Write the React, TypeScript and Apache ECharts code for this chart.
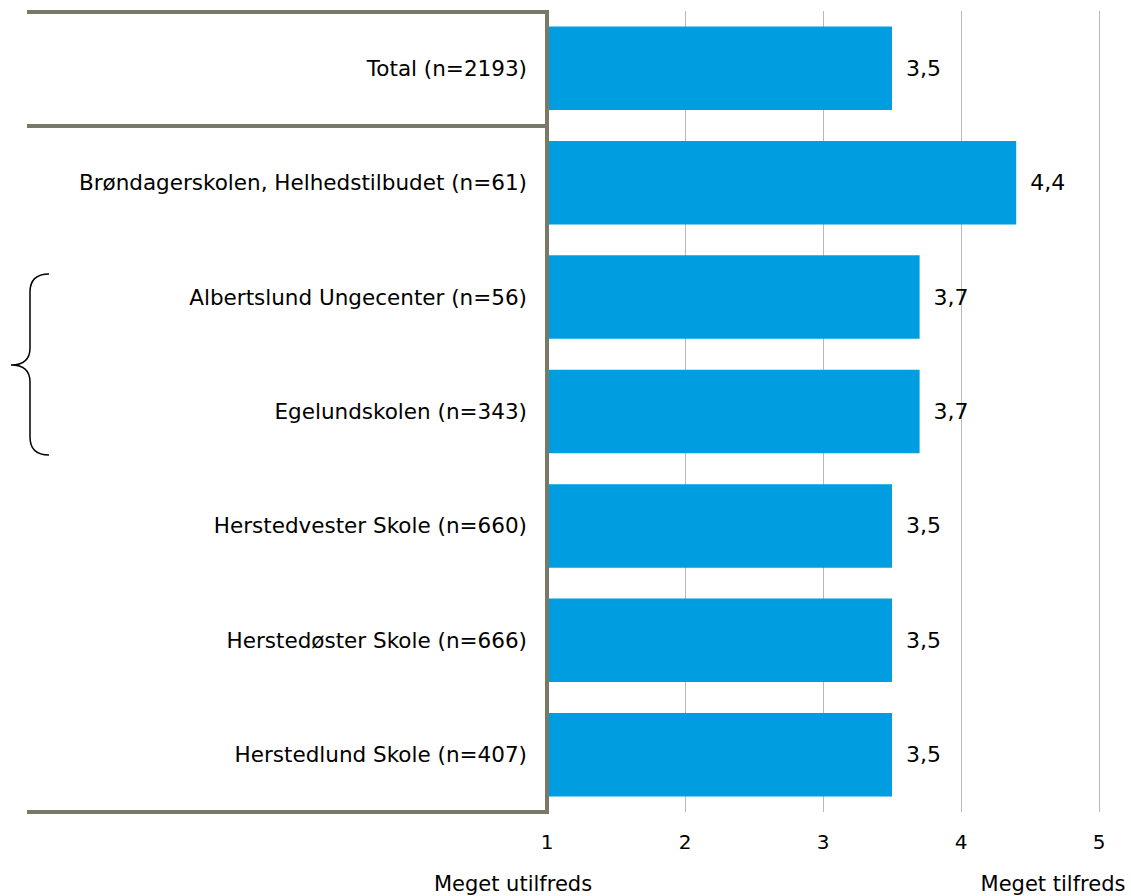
import React, { useEffect, useRef } from "react";
import * as echarts from "echarts";

const categories = [
  "Total (n=2193)",
  "Brøndagerskolen, Helhedstilbudet (n=61)",
  "Albertslund Ungecenter (n=56)",
  "Egelundskolen (n=343)",
  "Herstedvester Skole (n=660)",
  "Herstedøster Skole (n=666)",
  "Herstedlund Skole (n=407)",
];
const values = [3.5, 4.4, 3.7, 3.7, 3.5, 3.5, 3.5];
const xTicks = [1, 2, 3, 4, 5];
const scaleEnds = ["Meget utilfreds", "Meget tilfreds"];

const FONT = "'DejaVu Sans', Verdana, sans-serif";
const FRAME = "#7a7867";
const BRACE_D =
  "M49,274 C36,274 30,280 30,292 L30,348 C30,358 25,365 11,365 C25,365 30,372 30,382 L30,437 C30,449 36,455 49,455";

let registered = false;

export default function App() {
  const ref = useRef<HTMLDivElement>(null);
  useEffect(() => {
    if (!registered) {
      echarts.graphic.registerShape("brace", echarts.graphic.extendPath(BRACE_D, {}));
      registered = true;
    }
    const chart = echarts.init(ref.current!, null, { renderer: "svg" });
    const frameLine = (x1: number, y1: number, x2: number, y2: number) => ({
      type: "line",
      shape: { x1, y1, x2, y2 },
      style: { stroke: FRAME, lineWidth: 4 },
      z: 10,
    });
    chart.setOption({
      animation: false,
      backgroundColor: "#ffffff",
      grid: { left: 547, right: 32, top: 11, bottom: 84, containLabel: false },
      xAxis: {
        type: "value",
        min: 1,
        max: 5,
        interval: 1,
        axisLine: { show: false },
        axisTick: { show: false },
        splitLine: { show: true, lineStyle: { color: "#b8b8b8", width: 1 } },
        axisLabel: {
          fontSize: 20,
          color: "#000",
          fontFamily: FONT,
          margin: 20,
          formatter: (v: number) => (xTicks.includes(v) ? String(v) : ""),
        },
      },
      yAxis: {
        type: "category",
        inverse: true,
        data: categories,
        axisLine: { show: false },
        axisTick: { show: false },
        axisLabel: { fontSize: 21.5, color: "#000", fontFamily: FONT, margin: 20 },
      },
      series: [
        {
          type: "bar",
          data: values,
          barWidth: "73%",
          itemStyle: { color: "#009ee0" },
          label: {
            show: true,
            position: "right",
            distance: 14,
            fontSize: 22,
            color: "#000",
            fontFamily: FONT,
            formatter: (p: any) => String(p.value).replace(".", ","),
          },
        },
      ],
      graphic: [
        frameLine(27, 12, 549, 12),
        frameLine(27, 126, 549, 126),
        frameLine(27, 812, 549, 812),
        frameLine(547, 10, 547, 814),
        {
          type: "brace",
          x: 0,
          y: 0,
          scaleX: 1,
          scaleY: 1,
          style: { fill: "none", stroke: "#000", lineWidth: 1.5 },
        },
        {
          type: "text",
          x: 513,
          y: 884,
          style: {
            text: scaleEnds[0],
            font: `21px ${FONT}`,
            fill: "#000",
            textAlign: "center",
            textVerticalAlign: "middle",
          },
        },
        {
          type: "text",
          x: 1053,
          y: 884,
          style: {
            text: scaleEnds[1],
            font: `21px ${FONT}`,
            fill: "#000",
            textAlign: "center",
            textVerticalAlign: "middle",
          },
        },
      ],
    });
    return () => chart.dispose();
  }, []);
  return (
    <div
      ref={ref}
      style={{ position: "fixed", left: 0, top: 0, width: 1131, height: 896 }}
    />
  );
}
